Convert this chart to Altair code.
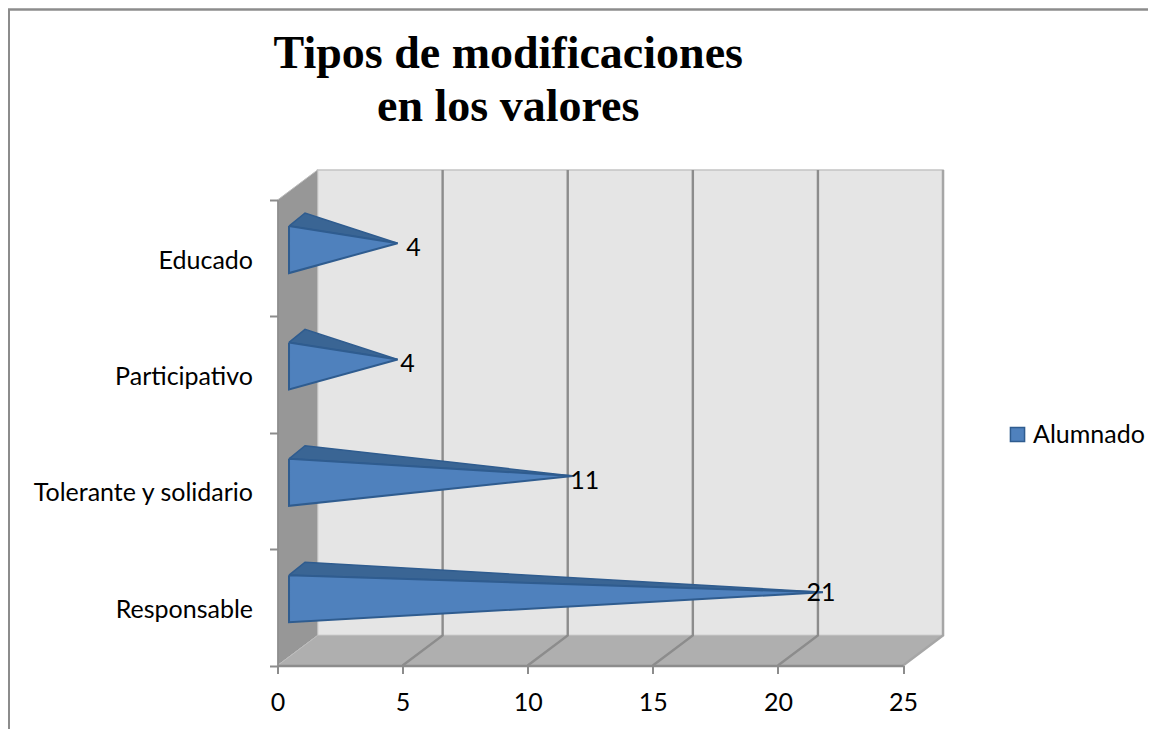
import altair as alt
import pandas as pd

categories = ["Educado", "Participativo", "Tolerante y solidario", "Responsable"]
values = [4, 4, 11, 21]
series_name = "Alumnado"
label_shift_x = [0.64, 0.4, 0.48, -0.08]
label_shift_y = [-0.04, -0.04, -0.04, -0.01]
x_ticks = [0, 5, 10, 15, 20, 25]
title_lines = ["Tipos de modificaciones", "en los valores"]

FONT = "Lato"
FS = 25
DX, DY = 1.6, 0.258
XMAX, RMAX = 25, 4
PX_W, PX_H = 625.5, 465.5

x_scale = alt.Scale(domain=[0, XMAX], nice=False, zero=False)
y_scale = alt.Scale(domain=[0, RMAX], nice=False, zero=False)
X_AXIS = alt.Axis(
    values=x_ticks, grid=False, title=None, zindex=1, format="d",
    domainColor="#8C8C8C", domainWidth=2.5, tickColor="#8C8C8C", tickWidth=2, tickSize=8,
    labelFont=FONT, labelFontSize=FS, labelColor="#000000", labelPadding=17, labelFlush=False,
)
X_ENC = alt.X("x:Q", scale=x_scale, axis=X_AXIS)
Y_NOAX = alt.Y("y:Q", scale=y_scale, axis=None)


def poly(points, **mark):
    df = pd.DataFrame(points, columns=["x", "y"])
    df["o"] = range(len(df))
    return alt.Chart(df).mark_line(**mark).encode(x=X_ENC, y=Y_NOAX, order="o:Q")


back = poly([(DX, DY), (XMAX + DX, DY), (XMAX + DX, RMAX + DY), (DX, RMAX + DY), (DX, DY)],
            fill="#E5E5E5", stroke="#C4C4C4", strokeWidth=1.5)
side = poly([(0, 0), (DX, DY), (DX, RMAX + DY), (0, RMAX), (0, 0)],
            fill="#979797", stroke="#BDBDBD", strokeWidth=1)
floor = poly([(0, 0), (XMAX, 0), (XMAX + DX, DY), (DX, DY), (0, 0)],
             fill="#AFAFAF", stroke="#BDBDBD", strokeWidth=1)
right_edge = poly([(XMAX, 0), (XMAX + DX, DY), (XMAX + DX, RMAX + DY)],
                  stroke="#A6A6A6", strokeWidth=2.5)
grids = [poly([(t, 0), (t + DX, DY), (t + DX, RMAX + DY)], stroke="#8C8C8C", strokeWidth=2.4)
         for t in x_ticks[1:-1]]

top_rows, front_rows = [], []
for i, (cat, v) in enumerate(zip(categories, values)):
    row = RMAX - 1 - i
    fx, bx, ax = 0.46, 1.1, v + 0.8
    ftop, fbot = row + 0.776, row + 0.372
    btop = ftop + 0.112
    ay = row + 0.629
    for o, (px, py) in enumerate([(fx, ftop), (bx, btop), (ax, ay), (fx, ftop)]):
        top_rows.append(dict(cat=cat, x=px, y=py, o=o))
    for o, (px, py) in enumerate([(fx, ftop), (ax, ay), (fx, fbot), (fx, ftop)]):
        front_rows.append(dict(cat=cat, x=px, y=py, o=o, series=series_name))

top_faces = alt.Chart(pd.DataFrame(top_rows)).mark_line(
    fill="#3A6594", stroke="#2F5C8F", strokeWidth=1.5
).encode(x=X_ENC, y=Y_NOAX, detail="cat:N", order="o:Q")

front_faces = alt.Chart(pd.DataFrame(front_rows)).mark_line(
    stroke="#2F5C8F", strokeWidth=2
).encode(
    x=X_ENC, y=Y_NOAX, detail="cat:N", order="o:Q",
    fill=alt.Fill(
        "series:N",
        scale=alt.Scale(domain=[series_name], range=["#4F81BD"]),
        legend=alt.Legend(
            title=None, orient="none", legendX=727.5, legendY=222,
            symbolType="square", symbolSize=200, symbolStrokeColor="#2F5C8F",
            symbolStrokeWidth=1.5, labelFont=FONT, labelFontSize=FS,
            labelColor="#000000", labelOffset=3,
        ),
    ),
)

labels_df = pd.DataFrame({
    "x": [v + 0.8 + s for v, s in zip(values, label_shift_x)],
    "y": [RMAX - 1 - i + 0.629 + s for i, s in enumerate(label_shift_y)],
    "t": [str(v) for v in values],
})
labels = alt.Chart(labels_df).mark_text(
    font=FONT, fontSize=FS, color="#000000", align="center", baseline="middle"
).encode(x=X_ENC, y=Y_NOAX, text="t:N")

axes = alt.Chart(pd.DataFrame({"cat": categories, "x": [0] * len(categories)})).mark_point(opacity=0).encode(
    x=X_ENC,
    y=alt.Y("cat:N", sort=categories,
            scale=alt.Scale(type="band", domain=categories, paddingInner=0, paddingOuter=0),
            axis=alt.Axis(
                grid=False, title=None, zindex=1, tickBand="extent",
                domainColor="#8C8C8C", domainWidth=1.5, tickColor="#8C8C8C", tickWidth=2, tickSize=8,
                labelFont=FONT, labelFontSize=FS, labelColor="#000000", labelPadding=17,
                labelOffset=2, labelLimit=400,
            )),
)

frame = pd.DataFrame({"a": [0]})
border_top = alt.Chart(frame).mark_rule(color="#8C8C8C", strokeWidth=2.5).encode(
    x=alt.value(-269.5), x2=alt.value(875), y=alt.value(-190.5))
border_left = alt.Chart(frame).mark_rule(color="#8C8C8C", strokeWidth=2).encode(
    x=alt.value(-268.5), y=alt.value(-190.5), y2=alt.value(529))

chart = alt.layer(
    border_top, border_left, back, side, floor, right_edge, *grids,
    top_faces, front_faces, labels, axes,
).resolve_scale(y="independent").properties(
    width=PX_W, height=PX_H,
    title=alt.TitleParams(
        text=title_lines, font="Liberation Serif", fontSize=46, fontWeight="bold",
        anchor="middle", align="center", dx=-82, dy=123, offset=0, lineHeight=53, color="#000000",
    ),
    padding={"left": 269.5, "top": 192, "right": 245, "bottom": 63.5},
    autosize=alt.AutoSizeParams(type="none"),
).configure_view(stroke=None)

chart.save("out.html", embed_options={"renderer": "svg", "actions": False})
